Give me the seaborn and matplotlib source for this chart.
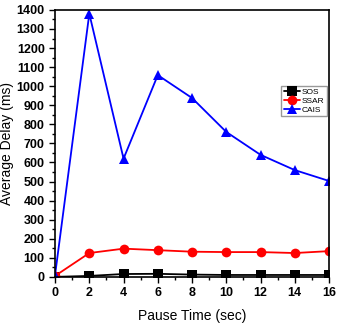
import seaborn as sns
import pandas as pd
import matplotlib.pyplot as plt
from matplotlib.ticker import MultipleLocator

pause_time = [0, 2, 4, 6, 8, 10, 12, 14, 16]
sos = [0, 5, 15, 16, 12, 10, 10, 10, 10]
ssar = [5, 125, 148, 140, 132, 130, 130, 125, 135]
cais = [10, 1380, 620, 1058, 938, 760, 640, 560, 503]

sns.set_style("ticks")
plt.rcParams["font.family"] = ["Liberation Sans", "DejaVu Sans"]
plt.rcParams["text.color"] = "black"
plt.rcParams["axes.labelcolor"] = "black"
plt.rcParams["xtick.color"] = "black"
plt.rcParams["ytick.color"] = "black"

data = pd.DataFrame({
    "pause": pause_time * 3,
    "delay": sos + ssar + cais,
    "proto": ["SOS"] * 9 + ["SSAR"] * 9 + ["CAIS"] * 9,
})

fig = plt.figure(figsize=(3.42, 3.30), dpi=100)
ax = fig.add_axes([0.161, 0.161, 0.801, 0.809])

sns.lineplot(
    data=data,
    x="pause",
    y="delay",
    hue="proto",
    style="proto",
    palette={"SOS": "black", "SSAR": "red", "CAIS": "blue"},
    markers={"SOS": "s", "SSAR": "o", "CAIS": "^"},
    dashes=False,
    markersize=7,
    markeredgewidth=0,
    linewidth=1.3,
    ax=ax,
)

ax.set_xlim(0, 16)
ax.set_ylim(0, 1400)
ax.xaxis.set_major_locator(MultipleLocator(2))
ax.xaxis.set_minor_locator(MultipleLocator(1))
ax.yaxis.set_major_locator(MultipleLocator(100))
ax.yaxis.set_minor_locator(MultipleLocator(50))
ax.tick_params(which="major", direction="out", length=4, width=1, labelsize=9)
ax.tick_params(which="minor", direction="out", length=2.5, width=1)
for lab in ax.get_xticklabels() + ax.get_yticklabels():
    lab.set_fontweight("bold")
for s in ax.spines.values():
    s.set_visible(True)
    s.set_linewidth(1.2)
    s.set_color("black")

ax.set_xlabel("Pause Time (sec)", fontsize=10, labelpad=7)
ax.set_ylabel("Average Delay (ms)", fontsize=10, labelpad=2)

ax.legend(
    loc="upper left",
    bbox_to_anchor=(0.825, 0.715),
    fontsize=6,
    frameon=True,
    fancybox=False,
    edgecolor="gray",
    handlelength=2.0,
    handletextpad=0.2,
    borderpad=0.3,
    labelspacing=0.1,
    borderaxespad=0,
)

fig.savefig("out.png", dpi=100)
